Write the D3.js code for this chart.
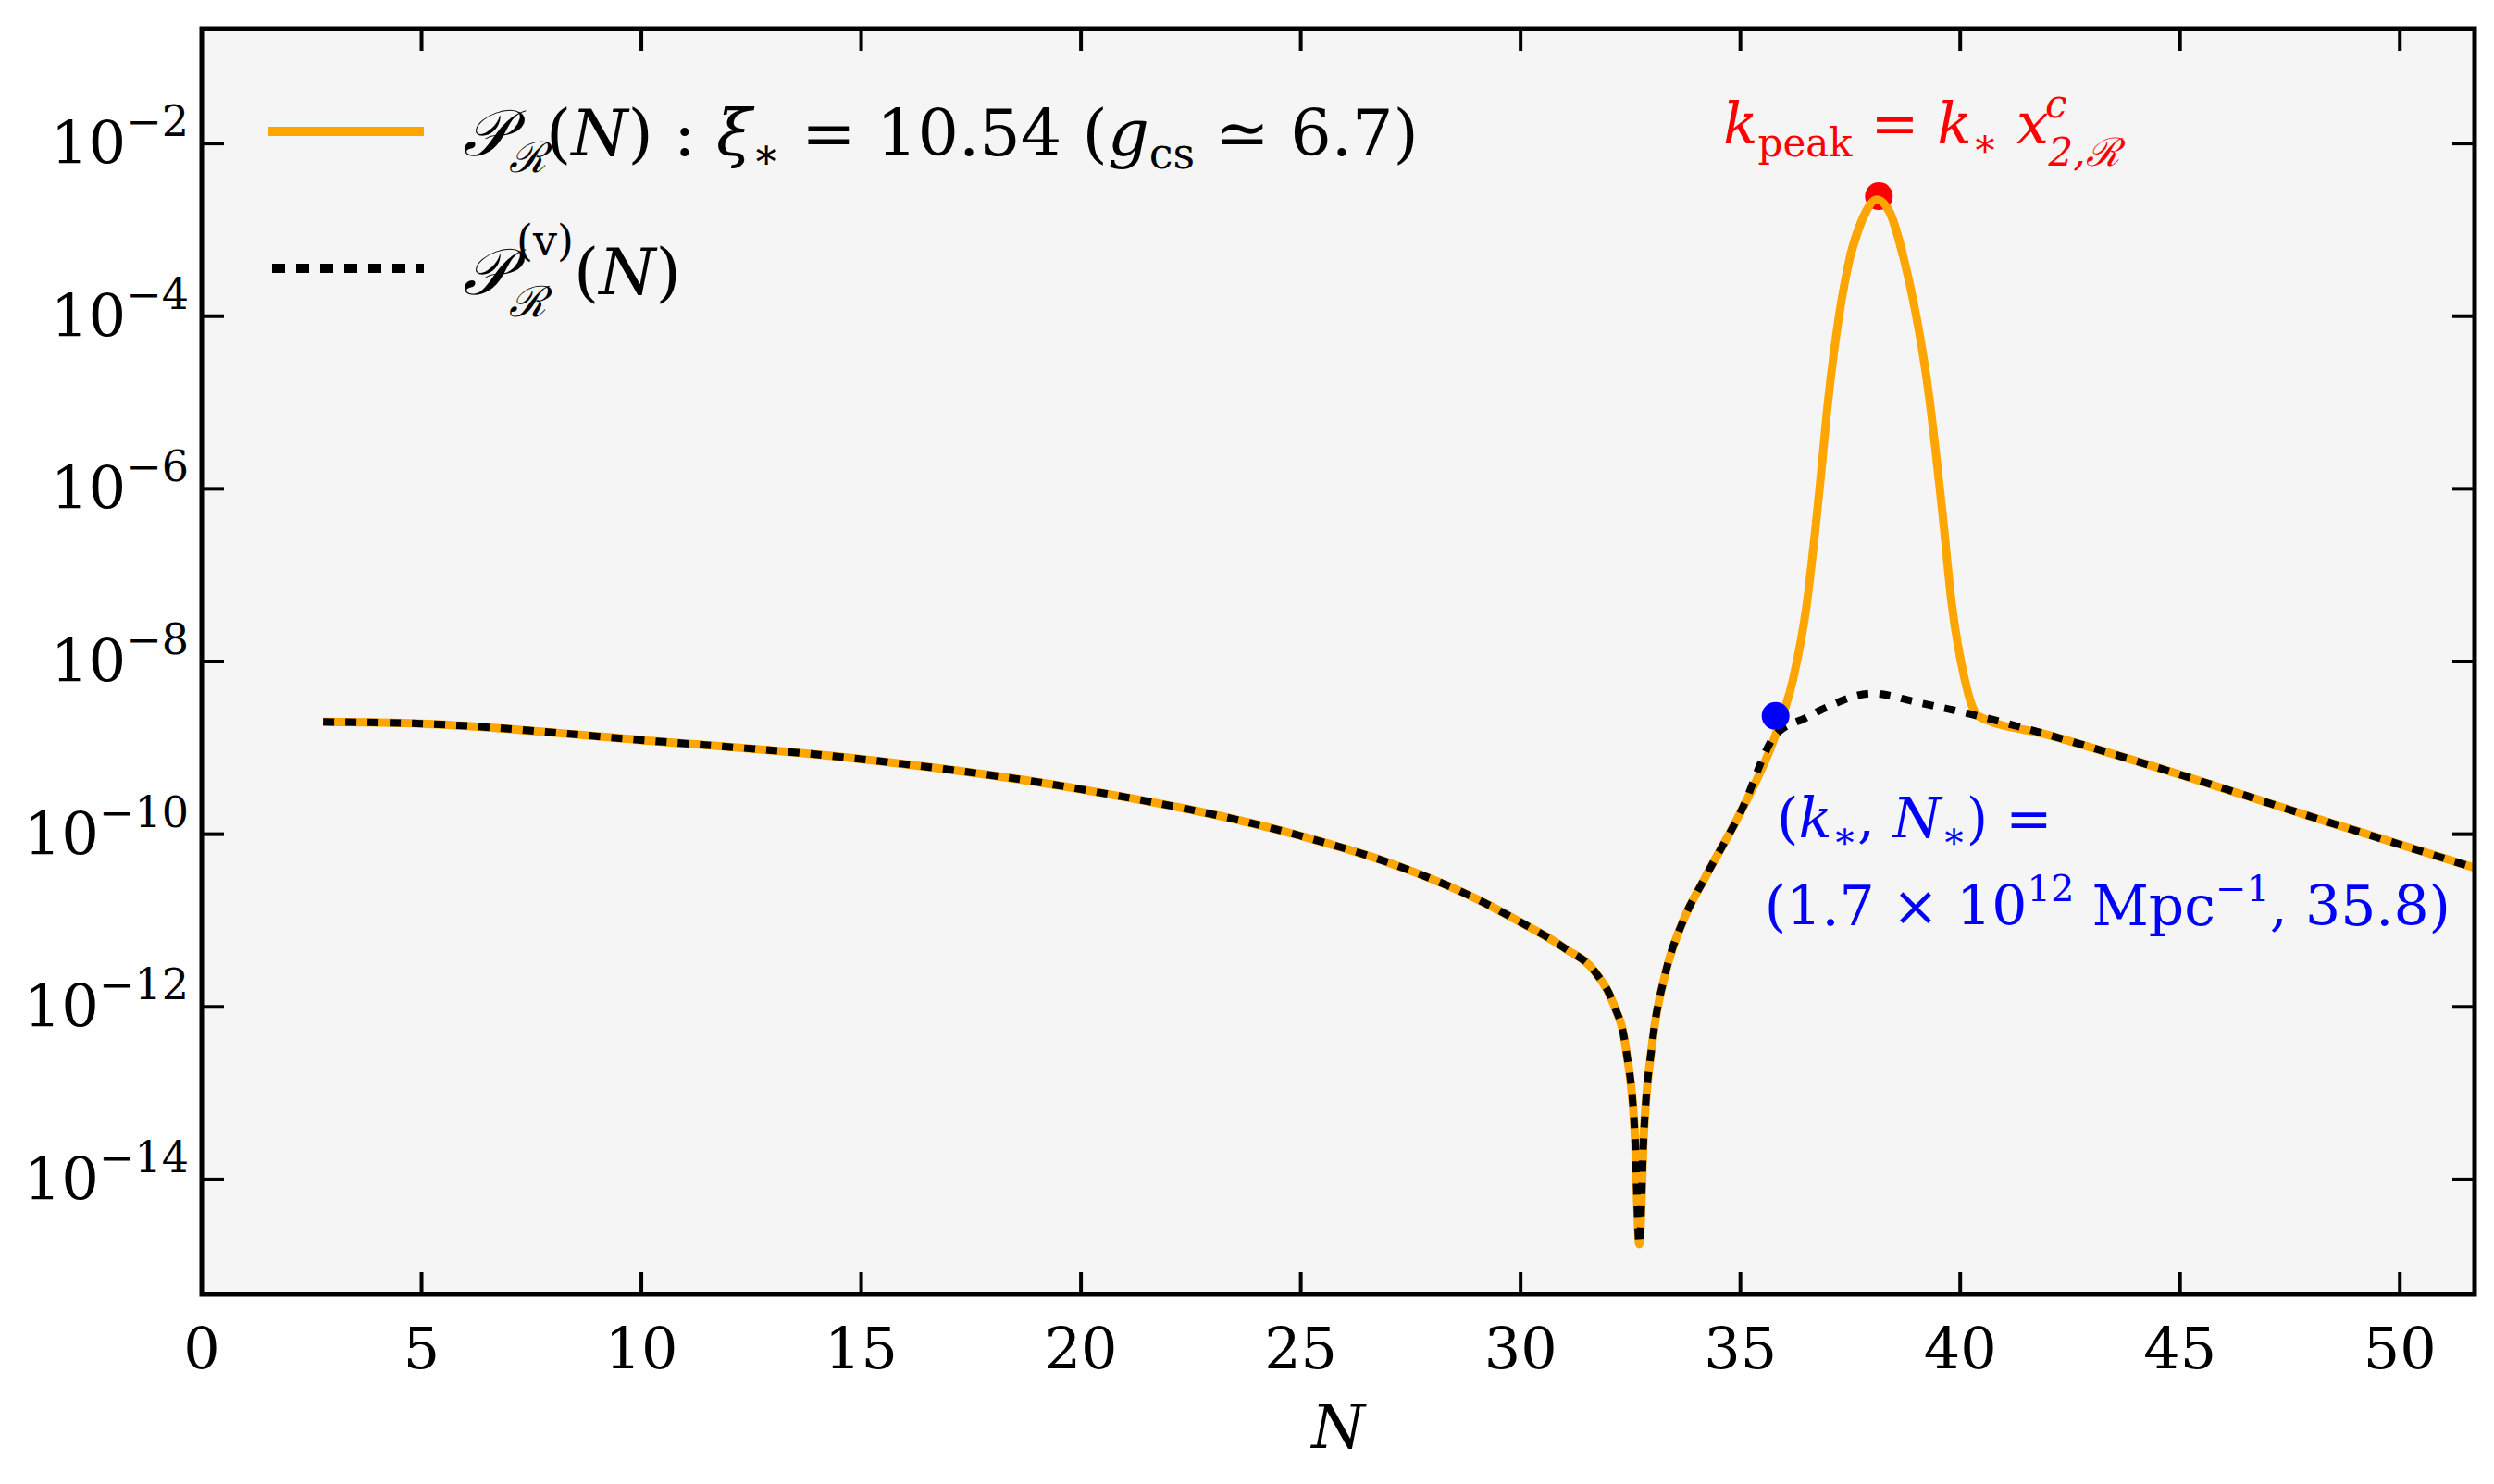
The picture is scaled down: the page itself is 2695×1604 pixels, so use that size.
<!DOCTYPE html>
<html><head><meta charset="utf-8">
<script src="https://d3js.org/d3.v7.min.js"></script>
<style>body{margin:0;background:#fff}text{font-family:"DejaVu Serif","Liberation Serif",serif}</style>
</head><body><svg id="c" width="2695" height="1604"></svg>
<script>
// Vacuum spectrum: N and log10(P)
const vacN = [2.76,5,10,15,20,25,27,29,30,31,31.7,32.1,32.4,32.6,32.7,32.8,33.0,33.3,33.7,34.2,35,35.8,36.5,37,38,39,40.4,42,45,48,51.7];
const vacLog = [-8.70,-8.72,-8.91,-9.13,-9.48,-10.02,-10.33,-10.75,-11.02,-11.32,-11.6,-11.95,-12.5,-13.5,-14.75,-13.5,-12.4,-11.6,-11.0,-10.5,-9.75,-8.85,-8.65,-8.52,-8.37,-8.47,-8.63,-8.85,-9.31,-9.8,-10.39];
// Sourced spectrum peak region (replaces vacuum between 35.8 and 40.4)
const peakN = [36.2,36.5,36.8,37,37.5,37.8,38.1,38.4,38.7,39.3,39.6,39.8,40.1,40.3];
const peakLog = [-8.2,-7.37,-6.0,-4.96,-3.30,-2.85,-2.65,-2.8,-3.3,-4.96,-6.3,-7.3,-8.2,-8.55];
const xTicks = [0,5,10,15,20,25,30,35,40,45,50];
const yTickExps = [-14,-12,-10,-8,-6,-4,-2];
const starPt = {N:35.8, logP:-8.63};
const peakPt = {N:38.15, logP:-2.61};

const svg = d3.select("#c");
const L=218,R=2674,T=31,B=1399;
const x = d3.scaleLinear().domain([0,51.7]).range([L,R]);
const y = d3.scaleLog().domain([Math.pow(10,-15.33),Math.pow(10,-0.67)]).range([B,T]);

svg.append("rect").attr("x",L).attr("y",T).attr("width",R-L).attr("height",B-T).attr("fill","#f5f5f5");
svg.append("clipPath").attr("id","cp").append("rect").attr("x",L).attr("y",T).attr("width",R-L).attr("height",B-T);

const vac = vacN.map((n,i)=>({N:n,v:Math.pow(10,vacLog[i])}));
const full = vac.filter(d=>d.N<=35.8).concat(peakN.map((n,i)=>({N:n,v:Math.pow(10,peakLog[i])}))).concat(vac.filter(d=>d.N>=40.4));
const line = d3.line().x(d=>x(d.N)).y(d=>y(d.v)).curve(d3.curveMonotoneX);
const g = svg.append("g").attr("clip-path","url(#cp)");
g.append("path").datum(full).attr("d",line).attr("fill","none").attr("stroke","#ffa500").attr("stroke-width",9);
g.append("path").datum(vac).attr("d",line).attr("fill","none").attr("stroke","#000").attr("stroke-width",8).attr("stroke-dasharray","12,12");
g.append("circle").attr("cx",x(starPt.N)).attr("cy",y(Math.pow(10,starPt.logP))).attr("r",15).attr("fill","blue");
g.append("circle").attr("cx",x(peakPt.N)).attr("cy",y(Math.pow(10,peakPt.logP))).attr("r",15).attr("fill","red");
g.append("path").datum(full.filter(d=>d.N>=37.5&&d.N<=38.7)).attr("d",line).attr("fill","none").attr("stroke","#ffa500").attr("stroke-width",9);

// axes
const tl=24;
const ax = svg.append("g").attr("stroke","#000").attr("stroke-width",4);
xTicks.forEach(t=>{ax.append("line").attr("x1",x(t)).attr("x2",x(t)).attr("y1",B).attr("y2",B-tl);
 ax.append("line").attr("x1",x(t)).attr("x2",x(t)).attr("y1",T).attr("y2",T+tl);});
yTickExps.forEach(e=>{const yy=y(Math.pow(10,e));ax.append("line").attr("x1",L).attr("x2",L+tl).attr("y1",yy).attr("y2",yy);
 ax.append("line").attr("x1",R).attr("x2",R-tl).attr("y1",yy).attr("y2",yy);});
svg.append("rect").attr("x",L).attr("y",T).attr("width",R-L).attr("height",B-T).attr("fill","none").attr("stroke","#000").attr("stroke-width",5);

xTicks.forEach(t=>svg.append("text").attr("x",x(t)).attr("y",B+80).attr("text-anchor","middle").attr("font-size",62).text(t));
yTickExps.forEach(e=>{const t=svg.append("text").attr("x",L-14).attr("y",y(Math.pow(10,e))+22).attr("text-anchor","end").attr("font-size",64);
 t.append("tspan").text("10");t.append("tspan").attr("dy",-30).attr("font-size",46).text("−"+(-e));});
svg.append("text").attr("x",(L+R)/2).attr("y",1565).attr("text-anchor","middle").attr("font-size",66).attr("font-style","italic").text("N");

// legend
svg.append("line").attr("x1",290).attr("x2",458).attr("y1",142).attr("y2",142).attr("stroke","#ffa500").attr("stroke-width",10);
svg.append("line").attr("x1",294).attr("x2",458).attr("y1",290).attr("y2",290).attr("stroke","#000").attr("stroke-width",10).attr("stroke-dasharray","14,12");
const l1 = svg.append("text").attr("x",500).attr("y",168).attr("font-size",70);
l1.append("tspan").attr("font-style","italic").text("𝒫");
l1.append("tspan").attr("dy",18).attr("font-size",46).attr("font-style","italic").text("ℛ");
l1.append("tspan").attr("dy",-18).text("(");
l1.append("tspan").attr("font-style","italic").text("N");
l1.append("tspan").text(") : ");
l1.append("tspan").attr("font-style","italic").text("ξ");
l1.append("tspan").attr("dy",14).attr("font-size",46).text("∗");
l1.append("tspan").attr("dy",-14).text(" = 10.54 (");
l1.append("tspan").attr("font-style","italic").text("g");
l1.append("tspan").attr("dy",14).attr("font-size",46).text("cs");
l1.append("tspan").attr("dy",-14).text(" ≃ 6.7)");
const l2 = svg.append("text").attr("x",500).attr("y",318).attr("font-size",70);
l2.append("tspan").attr("font-style","italic").text("𝒫");
l2.append("tspan").attr("dy",24).attr("font-size",46).attr("font-style","italic").text("ℛ");
l2.append("tspan").attr("dx",-32).attr("dy",-66).attr("font-size",46).text("(v)");
l2.append("tspan").attr("dy",42).text("(");
l2.append("tspan").attr("font-style","italic").text("N");
l2.append("tspan").text(")");

// red annotation
const ra = svg.append("text").attr("x",1862).attr("y",155).attr("font-size",62).attr("fill","red");
ra.append("tspan").attr("font-style","italic").text("k");
ra.append("tspan").attr("dy",14).attr("font-size",42).text("peak");
ra.append("tspan").attr("dy",-14).text(" = ");
ra.append("tspan").attr("font-style","italic").text("k");
ra.append("tspan").attr("dy",14).attr("font-size",42).text("∗");
ra.append("tspan").attr("dy",-14).attr("font-style","italic").text(" x");
ra.append("tspan").attr("dx",-4).attr("dy",-28).attr("font-size",42).attr("font-style","italic").text("c");
ra.append("tspan").attr("dx",-20).attr("dy",52).attr("font-size",42).attr("font-style","italic").text("2,ℛ");

// blue annotation
const b1 = svg.append("text").attr("x",1920).attr("y",905).attr("font-size",60).attr("fill","blue");
b1.append("tspan").text("(");
b1.append("tspan").attr("font-style","italic").text("k");
b1.append("tspan").attr("dy",12).attr("font-size",40).text("∗");
b1.append("tspan").attr("dy",-12).text(", ");
b1.append("tspan").attr("font-style","italic").text("N");
b1.append("tspan").attr("dy",12).attr("font-size",40).text("∗");
b1.append("tspan").attr("dy",-12).text(") =");
const b2 = svg.append("text").attr("x",2648).attr("y",1000).attr("font-size",60).attr("fill","blue").attr("text-anchor","end");
b2.append("tspan").text("(1.7 × 10");
b2.append("tspan").attr("dy",-26).attr("font-size",40).text("12");
b2.append("tspan").attr("dy",26).text(" Mpc");
b2.append("tspan").attr("dy",-26).attr("font-size",40).text("−1");
b2.append("tspan").attr("dy",26).text(", 35.8)");
</script></body></html>
